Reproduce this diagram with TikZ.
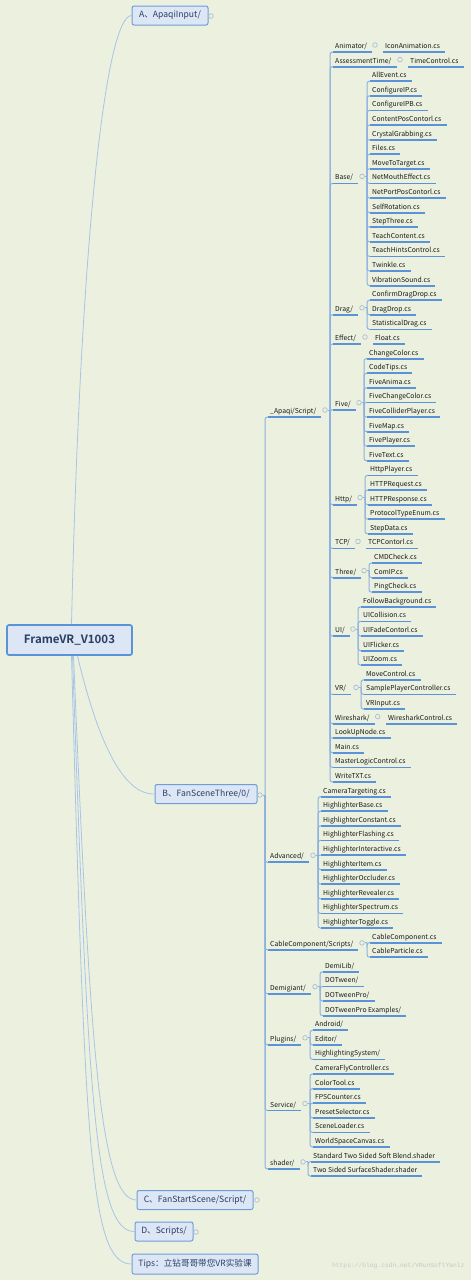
\documentclass[tikz,border=0pt]{standalone}
\usepackage{fontspec}
\setmainfont{Noto Sans CJK SC}[BoldFont={Noto Sans CJK SC Bold}]
\setmonofont{Liberation Mono}
\definecolor{bgpaper}{HTML}{EBF1DE}
\definecolor{ulblue}{HTML}{5B93D8}
\definecolor{spblue}{HTML}{8CB1DE}
\definecolor{rootline}{HTML}{A8C4E6}
\definecolor{boxfill}{HTML}{DCE6F4}
\definecolor{boxline}{HTML}{6F9DDA}
\definecolor{boxtext}{HTML}{2A3F66}
\definecolor{knobline}{HTML}{A9BED6}
\tikzset{
  item/.style={anchor=west, inner xsep=2pt, inner ysep=0pt, text height=7pt, text depth=0pt,
    font=\fontsize{6.8}{8}\selectfont, text=black!90,
    append after command={([yshift=-7pt]\tikzlastnode.west) edge[uline] ([yshift=-7pt,xshift=3pt]\tikzlastnode.east)}},
  uline/.style={draw=ulblue, line width=1.8pt},
  spine/.style={draw=spblue, line width=1pt, rounded corners=2.5pt},
  knob/.style={circle, draw=knobline, fill=bgpaper, line width=0.7pt, inner sep=0pt, minimum size=4.6pt},
  branch/.style={draw=boxline, fill=boxfill, rounded corners=2pt, line width=1pt, text=boxtext,
    font=\fontsize{8.6}{10}\selectfont, minimum height=19pt, inner xsep=4pt},
  trunk/.style={draw=rootline, line width=0.8pt},
}
\begin{document}
\begin{tikzpicture}[x=1pt, y=-1pt]
\fill[bgpaper] (0,0) rectangle (471,1280);
\useasboundingbox (0,0) rectangle (471,1280);

\node[branch, draw=ulblue, line width=1.7pt, minimum width=125pt, minimum height=30pt, font=\fontsize{11.5}{13}\selectfont\bfseries] (root) at (69.5,640) {FrameVR\_V1003};
\node[branch, minimum width=76pt] (A) at (170,15.5) {A、ApaqiInput/};
\node[branch, minimum width=102pt] (B) at (206,794) {B、FanSceneThree/0/};
\node[branch, minimum width=116pt] (C) at (195,1200) {C、FanStartScene/Script/};
\node[branch, minimum width=58pt] (D) at (164,1231.5) {D、Scripts/};
\node[branch, minimum width=126pt, minimum height=20pt] (tips) at (195,1264) {Tips：立钻哥哥带您VR实验课};
\node[knob] (AK) at (211,16) {};
\node[knob] (BK) at (260,795) {};
\node[knob] (CK) at (257,1200) {};
\node[knob] (DK) at (196,1232) {};

\draw[trunk] ([xshift=2pt]root.north) .. controls (80,250) and (105,16) .. (A.west);
\draw[trunk] ([xshift=8pt]root.south) .. controls (95,730) and (120,795) .. (B.west);
\draw[trunk] ([xshift=4pt]root.south) .. controls (90,1050) and (100,1200) .. (C.west);
\draw[trunk] ([xshift=3pt]root.south) .. controls (88,1100) and (95,1232) .. (D.west);
\draw[trunk] ([xshift=2pt]root.south) .. controls (85,1150) and (90,1264) .. (tips.west);

\node[item] (apq) at (268,410) {\_Apaqi/Script/};
\node[item] (adv) at (268,855.3) {Advanced/};
\node[item] (cab) at (268,942.9) {CableComponent/Scripts/};
\node[item] (demi) at (268,986.7) {Demigiant/};
\node[item] (plug) at (268,1037.8) {Plugins/};
\node[item] (serv) at (268,1103.5) {Service/};
\node[item] (shad) at (268,1161.9) {shader/};
\coordinate (BS) at (265,795);
\draw[spine] (BK) -- (BS);
\foreach \c in {apq,adv,cab,demi,plug,serv,shad}
  \draw[spine] (BS) |- ([yshift=-7pt]\c.west);

\node[item] (anim) at (333,45) {Animator/};
\node[item] (asmt) at (333,59.6) {AssessmentTime/};
\node[item] (base) at (333,176.4) {Base/};
\node[item] (drag) at (333,307.8) {Drag/};
\node[item] (eff) at (333,337) {Effect/};
\node[item] (five) at (333,402.7) {Five/};
\node[item] (http) at (333,497.6) {Http/};
\node[item] (tcp) at (333,541.4) {TCP/};
\node[item] (three) at (333,570.6) {Three/};
\node[item] (ui) at (333,629) {UI/};
\node[item] (vr) at (333,687.4) {VR/};
\node[item] (wire) at (333,716.6) {Wireshark/};
\node[item] (lookup) at (333,731.2) {LookUpNode.cs};
\node[item] (mainc) at (333,745.8) {Main.cs};
\node[item] (mlc) at (333,760.4) {MasterLogicControl.cs};
\node[item] (wtxt) at (333,775) {WriteTXT.cs};
\node[knob] (apqK) at (325,410) {};
\coordinate (apqS) at (330,410);
\draw[spine] (apqK) -- (apqS);
\foreach \c in {anim,asmt,base,drag,eff,five,http,tcp,three,ui,vr,wire,lookup,mainc,mlc,wtxt}
  \draw[spine] (apqS) |- ([yshift=-7pt]\c.west);

\node[knob] (animK) at (375,45) {};
\node[item] (iconan) at (383,45) {IconAnimation.cs};
\node[knob] (asmtK) at (400,59.6) {};
\node[item] (timec) at (408,59.6) {TimeControl.cs};
\node[knob] (effK) at (365,337) {};
\node[item] (float) at (373,337) {Float.cs};
\node[knob] (tcpK) at (358,541.4) {};
\node[item] (tcpc) at (366,541.4) {TCPContorl.cs};
\node[knob] (wireK) at (377.7,716.6) {};
\node[item] (wirec) at (386,716.6) {WiresharkControl.cs};

\node[knob] (baseK) at (362,176.4) {};
\coordinate (baseS) at (367,176.4);
\draw[spine] (baseK) -- (baseS);
\foreach \t [count=\i] in {AllEvent.cs, ConfigureIP.cs, ConfigureIPB.cs, ContentPosContorl.cs, CrystalGrabbing.cs, Files.cs, MoveToTarget.cs, NetMouthEffect.cs, NetPortPosContorl.cs, SelfRotation.cs, StepThree.cs, TeachContent.cs, TeachHintsControl.cs, Twinkle.cs, VibrationSound.cs} {
  \node[item] (base\i) at (370,{45+14.6*(\i+1)}) {\t};
  \draw[spine] (baseS) |- ([yshift=-7pt]base\i.west);
}

\node[knob] (dragK) at (362,307.8) {};
\coordinate (dragS) at (367,307.8);
\draw[spine] (dragK) -- (dragS);
\foreach \t [count=\i] in {ConfirmDragDrop.cs, DragDrop.cs, StatisticalDrag.cs} {
  \node[item] (drag\i) at (370,{45+14.6*(\i+16)}) {\t};
  \draw[spine] (dragS) |- ([yshift=-7pt]drag\i.west);
}

\node[knob] (fiveK) at (359,402.7) {};
\coordinate (fiveS) at (364,402.7);
\draw[spine] (fiveK) -- (fiveS);
\foreach \t [count=\i] in {ChangeColor.cs, CodeTips.cs, FiveAnima.cs, FiveChangeColor.cs, FiveColliderPlayer.cs, FiveMap.cs, FivePlayer.cs, FiveText.cs} {
  \node[item] (five\i) at (367,{45+14.6*(\i+20)}) {\t};
  \draw[spine] (fiveS) |- ([yshift=-7pt]five\i.west);
}

\node[knob] (httpK) at (360,497.6) {};
\coordinate (httpS) at (365,497.6);
\draw[spine] (httpK) -- (httpS);
\foreach \t [count=\i] in {HttpPlayer.cs, HTTPRequest.cs, HTTPResponse.cs, ProtocolTypeEnum.cs, StepData.cs} {
  \node[item] (http\i) at (368,{45+14.6*(\i+28)}) {\t};
  \draw[spine] (httpS) |- ([yshift=-7pt]http\i.west);
}

\node[knob] (threeK) at (364,570.6) {};
\coordinate (threeS) at (369,570.6);
\draw[spine] (threeK) -- (threeS);
\foreach \t [count=\i] in {CMDCheck.cs, ComIP.cs, PingCheck.cs} {
  \node[item] (three\i) at (372,{45+14.6*(\i+34)}) {\t};
  \draw[spine] (threeS) |- ([yshift=-7pt]three\i.west);
}

\node[knob] (uiK) at (353,629) {};
\coordinate (uiS) at (358,629);
\draw[spine] (uiK) -- (uiS);
\foreach \t [count=\i] in {FollowBackground.cs, UICollision.cs, UIFadeContorl.cs, UIFlicker.cs, UIZoom.cs} {
  \node[item] (ui\i) at (361,{45+14.6*(\i+37)}) {\t};
  \draw[spine] (uiS) |- ([yshift=-7pt]ui\i.west);
}

\node[knob] (vrK) at (356,687.4) {};
\coordinate (vrS) at (361,687.4);
\draw[spine] (vrK) -- (vrS);
\foreach \t [count=\i] in {MoveControl.cs, SamplePlayerController.cs, VRInput.cs} {
  \node[item] (vr\i) at (364,{45+14.6*(\i+42)}) {\t};
  \draw[spine] (vrS) |- ([yshift=-7pt]vr\i.west);
}

\node[knob] (advK) at (313,855.3) {};
\coordinate (advS) at (318,855.3);
\draw[spine] (advK) -- (advS);
\foreach \t [count=\i] in {CameraTargeting.cs, HighlighterBase.cs, HighlighterConstant.cs, HighlighterFlashing.cs, HighlighterInteractive.cs, HighlighterItem.cs, HighlighterOccluder.cs, HighlighterRevealer.cs, HighlighterSpectrum.cs, HighlighterToggle.cs} {
  \node[item] (adv\i) at (321,{45+14.6*(\i+50)}) {\t};
  \draw[spine] (advS) |- ([yshift=-7pt]adv\i.west);
}

\node[knob] (cabK) at (362,942.9) {};
\coordinate (cabS) at (367,942.9);
\draw[spine] (cabK) -- (cabS);
\foreach \t [count=\i] in {CableComponent.cs, CableParticle.cs} {
  \node[item] (cab\i) at (370,{45+14.6*(\i+60)}) {\t};
  \draw[spine] (cabS) |- ([yshift=-7pt]cab\i.west);
}

\node[knob] (demiK) at (315,986.7) {};
\coordinate (demiS) at (320,986.7);
\draw[spine] (demiK) -- (demiS);
\foreach \t [count=\i] in {DemiLib/, DOTween/, DOTweenPro/, DOTweenPro Examples/} {
  \node[item] (demi\i) at (323,{45+14.6*(\i+62)}) {\t};
  \draw[spine] (demiS) |- ([yshift=-7pt]demi\i.west);
}

\node[knob] (plugK) at (305,1037.8) {};
\coordinate (plugS) at (310,1037.8);
\draw[spine] (plugK) -- (plugS);
\foreach \t [count=\i] in {Android/, Editor/, HighlightingSystem/} {
  \node[item] (plug\i) at (313,{45+14.6*(\i+66)}) {\t};
  \draw[spine] (plugS) |- ([yshift=-7pt]plug\i.west);
}

\node[knob] (servK) at (305,1103.5) {};
\coordinate (servS) at (310,1103.5);
\draw[spine] (servK) -- (servS);
\foreach \t [count=\i] in {CameraFlyController.cs, ColorTool.cs, FPSCounter.cs, PresetSelector.cs, SceneLoader.cs, WorldSpaceCanvas.cs} {
  \node[item] (serv\i) at (313,{45+14.6*(\i+69)}) {\t};
  \draw[spine] (servS) |- ([yshift=-7pt]serv\i.west);
}

\node[knob] (shadK) at (303,1161.9) {};
\coordinate (shadS) at (308,1161.9);
\draw[spine] (shadK) -- (shadS);
\foreach \t [count=\i] in {Standard Two Sided Soft Blend.shader, Two Sided SurfaceShader.shader} {
  \node[item] (shad\i) at (311,{45+14.6*(\i+75)}) {\t};
  \draw[spine] (shadS) |- ([yshift=-7pt]shad\i.west);
}

\node[anchor=east, font=\ttfamily\fontsize{6.3}{7}\selectfont, text=black!22] (wm) at (468,1266) {https://blog.csdn.net/VRunSoftYanlz};
\end{tikzpicture}
\end{document}
